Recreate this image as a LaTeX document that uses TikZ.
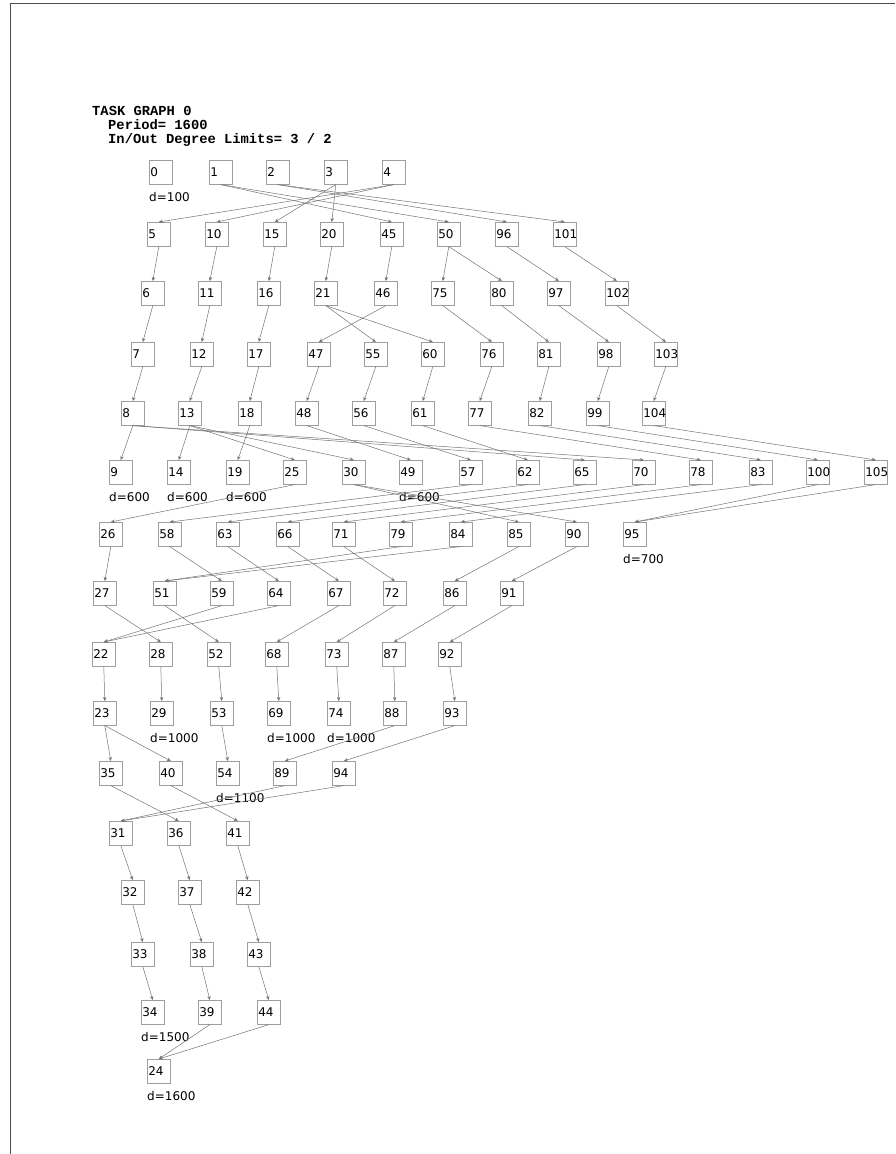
\documentclass[tikz,border=0pt]{standalone}
\usepackage{fontspec}
\setmainfont{DejaVu Sans}
\newfontfamily\titlefont{Liberation Mono}
\usetikzlibrary{arrows.meta}
\tikzset{
  tbox/.style={draw=black!38, line width=0.6pt, anchor=north west, text width=21pt, align=left,
    inner xsep=1pt, inner ysep=0pt, minimum height=24pt, font=\fontsize{12}{13}\selectfont},
  edge/.style={draw=black!55, line width=0.5pt, -{Stealth[length=4pt,width=3.5pt]}},
  dlab/.style={anchor=west, inner sep=0pt, font=\fontsize{12}{13}\selectfont},
  ttl/.style={anchor=base west, inner sep=0pt, font=\titlefont\bfseries\fontsize{13.8}{14}\selectfont},
  frame/.style={draw=black!70, line width=0.8pt}
}
\newcommand\tn[3]{\node[tbox] (n#1) at (#2,#3) {#1};}
\begin{document}
\begin{tikzpicture}[x=1pt,y=-1pt]
\useasboundingbox (0,0) rectangle (895,1154);
\draw[frame] (10,1154) -- (10,3) -- (895,3);
\node[ttl] (t1) at (92,115) {TASK GRAPH 0};
\node[ttl] (t2) at (108,129) {Period= 1600};
\node[ttl] (t3) at (108,143) {In/Out Degree Limits= 3 / 2};
% row 0
\tn{0}{149}{160}\tn{1}{209}{160}\tn{2}{266}{160}\tn{3}{324}{160}\tn{4}{382}{160}
% row 1
\tn{5}{147}{222}\tn{10}{205}{222}\tn{15}{263}{222}\tn{20}{320}{222}\tn{45}{380}{222}\tn{50}{437}{222}\tn{96}{495}{222}\tn{101}{553}{222}
% row 2
\tn{6}{141}{281}\tn{11}{198}{281}\tn{16}{257}{281}\tn{21}{314}{281}\tn{46}{374}{281}\tn{75}{431}{281}\tn{80}{490}{281}\tn{97}{547}{281}\tn{102}{605}{281}
% row 3
\tn{7}{131}{342}\tn{12}{190}{342}\tn{17}{247}{342}\tn{47}{307}{342}\tn{55}{364}{342}\tn{60}{421}{342}\tn{76}{480}{342}\tn{81}{537}{342}\tn{98}{597}{342}\tn{103}{654}{342}
% row 4
\tn{8}{121}{401}\tn{13}{178}{401}\tn{18}{238}{401}\tn{48}{295}{401}\tn{56}{352}{401}\tn{61}{411}{401}\tn{77}{468}{401}\tn{82}{528}{401}\tn{99}{586}{401}\tn{104}{642}{401}
% row 5
\tn{9}{109}{460}\tn{14}{167}{460}\tn{19}{226}{460}\tn{25}{283}{460}\tn{30}{342}{460}\tn{49}{399}{460}\tn{57}{459}{460}\tn{62}{516}{460}\tn{65}{573}{460}\tn{70}{632}{460}\tn{78}{689}{460}\tn{83}{749}{460}\tn{100}{806}{460}\tn{105}{864}{460}
% row 6
\tn{26}{99}{522}\tn{58}{158}{522}\tn{63}{216}{522}\tn{66}{276}{522}\tn{71}{332}{522}\tn{79}{389}{522}\tn{84}{449}{522}\tn{85}{507}{522}\tn{90}{565}{522}\tn{95}{623}{522}
% row 7
\tn{27}{93}{581}\tn{51}{153}{581}\tn{59}{210}{581}\tn{64}{267}{581}\tn{67}{327}{581}\tn{72}{383}{581}\tn{86}{443}{581}\tn{91}{500}{581}
% row 8
\tn{22}{92}{642}\tn{28}{149}{642}\tn{52}{207}{642}\tn{68}{265}{642}\tn{73}{325}{642}\tn{87}{382}{642}\tn{92}{438}{642}
% row 9
\tn{23}{93}{701}\tn{29}{150}{701}\tn{53}{210}{701}\tn{69}{267}{701}\tn{74}{327}{701}\tn{88}{383}{701}\tn{93}{443}{701}
% row 10
\tn{35}{99}{761}\tn{40}{159}{761}\tn{54}{216}{761}\tn{89}{273}{761}\tn{94}{332}{761}
% rows 11-15
\tn{31}{109}{821}\tn{36}{167}{821}\tn{41}{226}{821}
\tn{32}{121}{880}\tn{37}{178}{880}\tn{42}{236}{880}
\tn{33}{131}{942}\tn{38}{190}{942}\tn{43}{247}{942}
\tn{34}{141}{1000}\tn{39}{198}{1000}\tn{44}{257}{1000}
\tn{24}{147}{1059}
% deadlines
\foreach \n/\t in {0/100,9/600,14/600,19/600,49/600,95/700,29/1000,69/1000,74/1000,54/1100,34/1500,24/1600}
  \node[dlab] (d\n) at ([yshift=-12pt]n\n.south west) {d=\t};
% edges
\foreach \a/\b in {4/5,4/10,3/15,3/20,1/45,1/50,2/96,2/101,
  5/6,10/11,15/16,20/21,45/46,50/75,50/80,96/97,101/102,
  6/7,11/12,16/17,46/47,21/55,21/60,75/76,80/81,97/98,102/103,
  7/8,12/13,17/18,47/48,55/56,60/61,76/77,81/82,98/99,103/104,
  8/9,13/14,18/19,13/25,13/30,8/65,8/70,48/49,56/57,61/62,77/78,82/83,99/100,104/105,
  25/26,57/58,62/63,65/66,70/71,78/79,83/84,30/85,30/90,100/95,105/95,
  26/27,58/59,63/64,66/67,71/72,79/51,84/51,85/86,90/91,
  27/28,51/52,59/22,64/22,67/68,72/73,86/87,91/92,
  22/23,28/29,52/53,68/69,73/74,87/88,92/93,
  23/35,23/40,53/54,88/89,93/94,
  35/36,40/41,89/31,94/31,
  31/32,36/37,41/42,
  32/33,37/38,42/43,
  33/34,38/39,43/44,
  39/24,44/24}
  \draw[edge] (n\a.south) -- (n\b.north);
\end{tikzpicture}
\end{document}
